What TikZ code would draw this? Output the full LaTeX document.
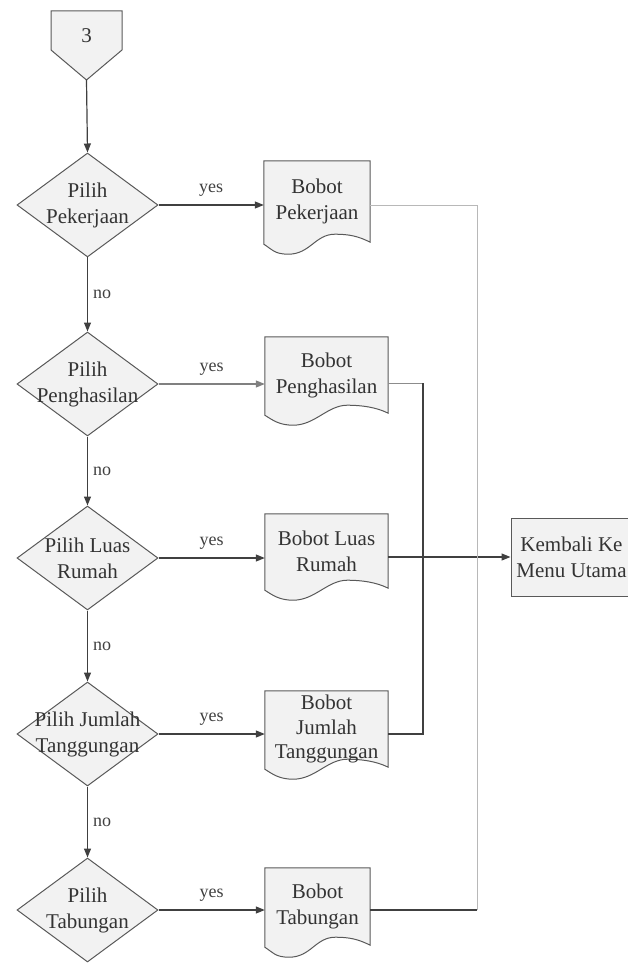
\documentclass[tikz,border=0pt]{standalone}
\usepackage{fontspec}
\setmainfont{Liberation Serif}
\usetikzlibrary{shapes.geometric,arrows.meta,calc,backgrounds}

% outline of a document symbol around the node #1 (wavy lower edge)
\newcommand\docoutline[1]{%
  \begin{scope}[on background layer]
    \path[shapeline] (#1.north west) -- (#1.north east) -- (#1.south east)
      .. controls +(-12,-6) and +(14,0) .. ($(#1.south west)!0.67!(#1.south east)+(0,-8)$)
      .. controls +(-20,0) and +(22,0) .. ($(#1.south west)!0.23!(#1.south east)+(0,12)$)
      .. controls +(-14,0) and +(8,5) .. ($(#1.south west)+(0,2)$) -- cycle;
  \end{scope}}

\begin{document}
\begin{tikzpicture}[x=1pt,y=-1pt,
  shapeline/.style={draw=black!65,line width=1pt,fill=black!5},
  txt/.style={font=\fontsize{21}{26}\selectfont,align=center,text=black!80,inner sep=0pt},
  lbl/.style={font=\fontsize{18}{20}\selectfont,text=black!75,inner sep=0pt},
  dia/.style={diamond,shapeline,minimum width=141pt,minimum height=104pt,inner sep=0pt},
  doc/.style={txt,rectangle,minimum height=76pt},
  flow/.style={draw=black!75,line width=1.2pt},
  arrow/.style={flow,-{Triangle[length=9pt,width=7pt]}},
  pale/.style={draw=black!28,line width=1pt},
  mid/.style={draw=black!45,line width=1pt},
]
\useasboundingbox (0,0) rectangle (627,965);

% off-page reference
\node[txt] (c3) at (86.5,36) {3};
\coordinate (c3tip) at (86.5,80);
\begin{scope}[on background layer]
  \path[shapeline] ($(c3)+(-35.5,-25)$) -- ($(c3)+(35.5,-25)$) -- ($(c3)+(35.5,14)$)
    -- (c3tip) -- ($(c3)+(-35.5,14)$) -- cycle;
\end{scope}

% decisions
\node[dia] (q1) at (87.5,205) {};
\node[txt] (q1t) at (q1) {Pilih\\Pekerjaan};
\node[dia] (q2) at (87.5,384) {};
\node[txt] (q2t) at (q2) {Pilih\\Penghasilan};
\node[dia] (q3) at (87.5,558) {};
\node[txt] (q3t) at (q3) {Pilih Luas\\Rumah};
\node[dia] (q4) at (87.5,734) {};
\node[txt] (q4t) at (q4) {Pilih Jumlah\\Tanggungan};
\node[dia] (q5) at (87.5,910) {};
\node[txt] (q5t) at (q5) {Pilih\\Tabungan};

% documents
\node[doc,minimum width=106pt,minimum height=81pt] (b1) at (317,201.5) {Bobot\\Pekerjaan};
\node[doc,minimum width=123pt] (b2) at (326.5,375) {Bobot\\Penghasilan};
\node[doc,minimum width=123pt,minimum height=74pt] (b3) at (326.5,551) {Bobot Luas\\Rumah};
\node[doc,minimum width=123pt,font=\fontsize{21}{24.5}\selectfont] (b4) at (326.5,729) {Bobot\\Jumlah\\Tanggungan};
\node[doc,minimum width=105pt,minimum height=77pt] (b5) at (317.5,906.5) {Bobot\\Tabungan};
\docoutline{b1}
\docoutline{b2}
\docoutline{b3}
\docoutline{b4}
\docoutline{b5}

% return box
\node[txt,rectangle,draw=black!65,line width=1pt,fill=black!5,minimum width=121pt,minimum height=78pt] (k) at (571.5,557) {Kembali Ke\\Menu Utama};

% main flow
\draw[arrow] (c3tip) -- (q1.north);
\draw[arrow] (q1.south) -- node[lbl,anchor=west,xshift=5pt] {no} (q2.north);
\draw[arrow] (q2.south) -- node[lbl,anchor=west,xshift=5pt] {no} (q3.north);
\draw[arrow] (q3.south) -- node[lbl,anchor=west,xshift=5pt] {no} (q4.north);
\draw[arrow] (q4.south) -- node[lbl,anchor=west,xshift=5pt] {no} (q5.north);

% yes branches
\draw[arrow] (q1.east) -- node[lbl,above=8pt] {yes} (b1.west |- q1);
\draw[arrow,draw=black!50] (q2.east) -- node[lbl,above=8pt] {yes} (b2.west |- q2);
\draw[arrow] (q3.east) -- node[lbl,above=8pt] {yes} (b3.west |- q3);
\draw[arrow] (q4.east) -- node[lbl,above=8pt] {yes} (b4.west |- q4);
\draw[arrow] (q5.east) -- node[lbl,above=8pt] {yes} (b5.west |- q5);

% collecting lines
\coordinate (jt) at (423,383);
\coordinate (jb) at (423,734);
\coordinate (lt) at (477,206);
\coordinate (lb) at (477,910);
\draw[mid] (b2.east |- jt) -- (jt);
\draw[flow] (jt) -- (jb) -- (b4.east |- jb);
\draw[arrow] (b3.east |- k) -- (k.west);
\draw[pale] (b1.east |- lt) -- (lt) -- (lb);
\draw[flow] (lb) -- (b5.east |- lb);
\end{tikzpicture}
\end{document}
